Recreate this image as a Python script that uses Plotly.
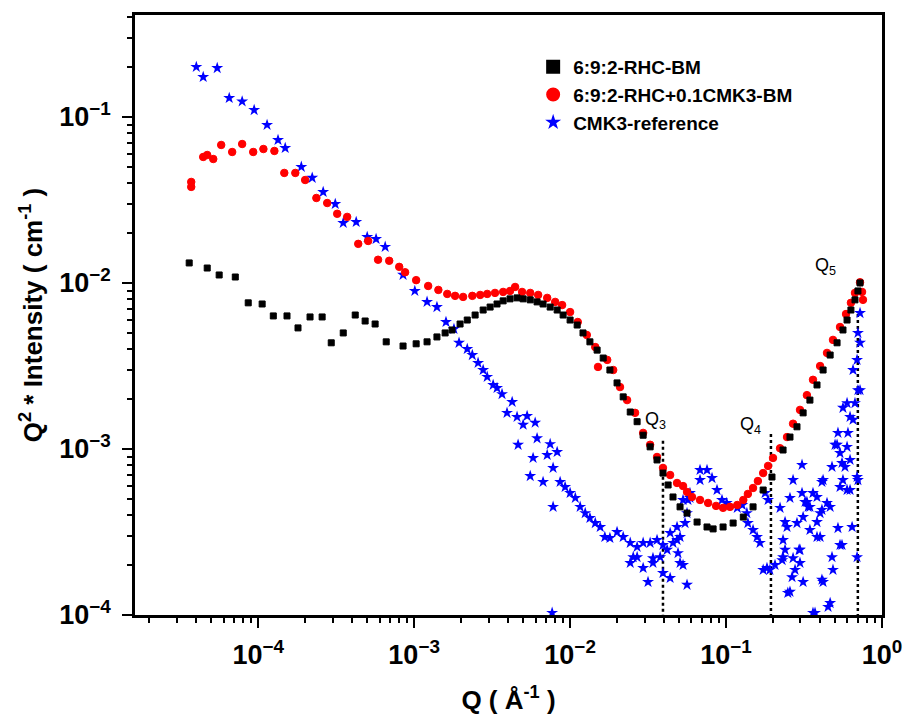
import math
import plotly.graph_objects as go

# 6:9:2-RHC-BM
q_bm = [3.61e-5, 4.71e-5, 5.62e-5, 7.13e-5, 8.63e-5, 1.06e-4, 1.25e-4, 1.53e-4, 1.80e-4, 2.15e-4,
        2.57e-4, 2.94e-4, 3.51e-4, 4.19e-4, 4.85e-4, 5.62e-4, 6.62e-4, 8.49e-4, 1.03e-3, 1.21e-3,
        1.40e-3, 1.58e-3, 1.75e-3, 1.97e-3, 2.19e-3, 2.46e-3, 2.77e-3, 3.07e-3, 3.40e-3, 3.72e-3,
        4.12e-3, 4.57e-3, 5.0e-3, 5.55e-3, 6.14e-3, 6.71e-3, 7.45e-3, 8.26e-3, 9.02e-3, 1.0e-2,
        1.11e-2, 1.21e-2, 1.34e-2, 1.49e-2, 1.63e-2, 1.80e-2, 2.0e-2, 2.19e-2, 2.43e-2, 2.69e-2,
        2.94e-2, 3.26e-2, 3.61e-2, 3.94e-2, 4.25e-2, 4.57e-2, 5.07e-2, 5.62e-2, 6.52e-2, 7.55e-2,
        8.26e-2, 9.57e-2, 0.111, 0.129, 0.149, 0.173, 0.197, 0.232, 0.257, 0.285,
        0.312, 0.345, 0.383, 0.419, 0.465, 0.515, 0.562, 0.597, 0.632, 0.671,
        0.701, 0.723]
i_bm = [1.32e-2, 1.23e-2, 1.117e-2, 1.086e-2, 7.59e-3, 7.47e-3, 6.33e-3, 6.33e-3, 5.36e-3, 6.24e-3,
        6.24e-3, 4.36e-3, 5.0e-3, 6.41e-3, 5.90e-3, 5.66e-3, 4.42e-3, 4.17e-3, 4.30e-3, 4.42e-3,
        4.73e-3, 5.0e-3, 5.21e-3, 5.66e-3, 5.98e-3, 6.41e-3, 6.87e-3, 7.16e-3, 7.47e-3, 7.80e-3,
        8.02e-3, 8.13e-3, 8.02e-3, 7.91e-3, 7.69e-3, 7.47e-3, 7.16e-3, 6.87e-3, 6.41e-3, 5.98e-3,
        5.58e-3, 5.0e-3, 4.42e-3, 3.94e-3, 3.53e-3, 2.99e-3, 2.50e-3, 2.06e-3, 1.67e-3, 1.46e-3,
        1.21e-3, 1.03e-3, 8.59e-4, 7.16e-4, 6.07e-4, 5.14e-4, 4.48e-4, 4.11e-4, 3.63e-4, 3.39e-4,
        3.30e-4, 3.39e-4, 3.58e-4, 3.89e-4, 4.48e-4, 5.66e-4, 6.78e-4, 9.86e-4, 1.18e-3, 1.36e-3,
        1.65e-3, 1.97e-3, 2.43e-3, 2.99e-3, 3.68e-3, 4.36e-3, 5.21e-3, 5.98e-3, 6.87e-3, 7.91e-3,
        8.95e-3, 1.0e-2]

# 6:9:2-RHC+0.1CMK3-BM
q_cmk = [3.72e-5, 3.72e-5, 4.44e-5, 4.71e-5, 5.15e-5, 5.79e-5, 6.81e-5, 7.89e-5, 9.29e-5, 1.08e-4,
         1.27e-4, 1.47e-4, 1.73e-4, 2.0e-4, 2.36e-4, 2.77e-4, 3.21e-4, 3.72e-4, 4.38e-4, 5.07e-4,
         5.87e-4, 6.92e-4, 8.02e-4, 8.75e-4, 1.03e-3, 1.23e-3, 1.43e-3, 1.63e-3, 1.83e-3, 2.06e-3,
         2.36e-3, 2.65e-3, 2.94e-3, 3.30e-3, 3.72e-3, 4.12e-3, 4.44e-3, 4.92e-3, 5.55e-3, 6.24e-3,
         7.13e-3, 8.02e-3, 8.89e-3, 1.0e-2, 1.12e-2, 1.28e-2, 1.45e-2, 1.51e-2, 1.73e-2, 1.89e-2,
         2.09e-2, 2.32e-2, 2.61e-2, 2.94e-2, 3.26e-2, 3.61e-2, 3.94e-2, 4.38e-2, 4.85e-2, 5.30e-2,
         5.62e-2, 6.05e-2, 6.81e-2, 7.67e-2, 8.63e-2, 9.57e-2, 0.106, 0.118, 0.129, 0.138,
         0.149, 0.160, 0.173, 0.186, 0.200, 0.222, 0.246, 0.269, 0.298, 0.330,
         0.361, 0.401, 0.444, 0.485, 0.538, 0.588, 0.632, 0.671, 0.723, 0.745,
         0.755]
i_cmk = [4.06e-2, 3.79e-2, 5.74e-2, 5.90e-2, 5.58e-2, 6.78e-2, 6.15e-2, 6.87e-2, 6.15e-2, 6.41e-2,
         6.24e-2, 4.60e-2, 4.60e-2, 4.17e-2, 3.25e-2, 3.03e-2, 2.61e-2, 2.50e-2, 1.72e-2, 1.79e-2,
         1.38e-2, 1.36e-2, 1.25e-2, 1.16e-2, 1.04e-2, 9.59e-3, 9.08e-3, 8.59e-3, 8.36e-3, 8.24e-3,
         8.36e-3, 8.47e-3, 8.59e-3, 8.71e-3, 8.83e-3, 8.95e-3, 9.46e-3, 8.83e-3, 8.71e-3, 8.47e-3,
         8.13e-3, 7.69e-3, 7.36e-3, 6.68e-3, 5.82e-3, 4.86e-3, 4.11e-3, 3.12e-3, 3.44e-3, 2.99e-3,
         2.36e-3, 1.97e-3, 1.65e-3, 1.25e-3, 1.06e-3, 8.95e-4, 7.69e-4, 6.97e-4, 6.24e-4, 5.98e-4,
         5.51e-4, 5.14e-4, 4.93e-4, 4.73e-4, 4.54e-4, 4.42e-4, 4.48e-4, 4.60e-4, 4.93e-4, 5.36e-4,
         5.82e-4, 6.41e-4, 7.16e-4, 7.91e-4, 8.83e-4, 1.01e-3, 1.18e-3, 1.42e-3, 1.72e-3, 2.11e-3,
         2.61e-3, 3.16e-3, 3.79e-3, 4.54e-3, 5.43e-3, 6.50e-3, 7.59e-3, 8.71e-3, 1.01e-2, 8.83e-3,
         7.91e-3]

# CMK3-reference
q_ref = [4.01e-5, 4.44e-5, 5.46e-5, 6.52e-5, 7.89e-5, 9.42e-5, 1.14e-4, 1.34e-4, 1.49e-4, 1.89e-4,
         2.22e-4, 2.61e-4, 3.12e-4, 3.51e-4, 4.25e-4, 5.0e-4, 5.70e-4, 6.52e-4, 8.49e-4, 1.01e-3,
         1.21e-3, 1.40e-3, 1.60e-3, 1.80e-3, 1.94e-3, 2.19e-3, 2.36e-3, 2.57e-3, 2.77e-3, 2.94e-3,
         3.21e-3, 3.40e-3, 3.66e-3, 4.25e-3, 3.94e-3, 4.57e-3, 5.30e-3, 5.0e-3, 5.97e-3, 4.64e-3,
         6.14e-3, 7.45e-3, 8.26e-3, 7.13e-3, 5.79e-3, 5.55e-3, 6.71e-3, 7.78e-3, 8.63e-3, 9.29e-3,
         1.0e-2, 1.08e-2, 1.16e-2, 1.25e-2, 1.34e-2, 1.45e-2, 1.56e-2, 7.78e-3, 1.67e-2, 1.80e-2,
         2.0e-2, 2.19e-2, 2.43e-2, 2.69e-2, 2.94e-2, 3.26e-2, 3.61e-2, 2.43e-2, 2.69e-2, 2.94e-2,
         3.40e-2, 3.78e-2, 4.19e-2, 4.57e-2, 5.07e-2, 5.46e-2, 5.62e-2, 5.70e-2, 3.16e-2, 4.38e-2,
         5.62e-2, 3.94e-2, 5.30e-2, 4.92e-2, 4.85e-2, 4.38e-2, 5.87e-2, 5.30e-2, 6.81e-2, 7.55e-2,
         6.81e-2, 8.13e-2, 8.75e-2, 9.42e-2, 0.101, 0.118, 0.127, 0.136, 0.138, 0.149,
         0.158, 0.165, 0.173, 0.191, 0.206, 0.186, 0.178, 0.222, 0.239, 0.257,
         0.269, 0.307, 0.307, 0.330, 0.345, 0.361, 0.383, 0.412, 0.444, 0.401,
         0.383, 0.345, 0.401, 0.312, 0.285, 0.246, 0.232, 0.239, 0.232, 0.229,
         0.269, 0.298, 0.277, 0.265, 0.257, 0.312, 0.478, 0.485, 0.538, 0.522,
         0.419, 0.361, 0.451, 0.465, 0.478, 0.515, 0.522, 0.538, 0.562, 0.597,
         0.624, 0.605, 0.597, 0.624, 0.554, 0.538, 0.597, 0.671, 0.652, 0.692,
         0.701, 0.723, 0.723, 0.701, 0.692, 0.692, 0.643, 0.652, 0.723, 7.67e-3,
         0.183, 0.249, 0.294, 0.298, 0.412, 0.554, 0.372, 0.500, 0.562, 0.624,
         0.579, 0.701, 0.321, 0.336, 0.419, 0.465, 0.412, 0.383, 2.54e-2, 3.94e-2,
         3.40e-2, 5.07e-2, 4.85e-2, 5.87e-2]
i_ref = [0.200, 0.174, 0.197, 0.130, 0.124, 0.110, 8.95e-2, 7.26e-2, 6.50e-2, 5.0e-2,
         4.30e-2, 3.53e-2, 2.99e-2, 2.30e-2, 2.33e-2, 1.89e-2, 1.84e-2, 1.65e-2, 1.12e-2, 8.95e-3,
         7.69e-3, 7.16e-3, 5.82e-3, 5.28e-3, 4.36e-3, 4.0e-3, 3.68e-3, 3.30e-3, 2.99e-3, 2.72e-3,
         2.43e-3, 2.33e-3, 2.14e-3, 1.92e-3, 1.65e-3, 1.56e-3, 1.58e-3, 1.40e-3, 1.44e-3, 1.06e-3,
         1.16e-3, 1.07e-3, 9.59e-4, 9.20e-4, 8.83e-4, 6.87e-4, 6.33e-4, 7.69e-4, 6.33e-4, 5.90e-4,
         5.43e-4, 5.07e-4, 4.48e-4, 4.11e-4, 3.84e-4, 3.58e-4, 3.39e-4, 4.48e-4, 2.95e-4, 2.91e-4,
         3.16e-4, 2.95e-4, 2.72e-4, 2.57e-4, 2.72e-4, 2.72e-4, 2.83e-4, 2.06e-4, 2.23e-4, 1.92e-4,
         2.06e-4, 2.23e-4, 2.47e-4, 2.72e-4, 2.95e-4, 3.58e-4, 4.11e-4, 4.93e-4, 1.58e-4, 1.67e-4,
         1.52e-4, 1.79e-4, 2.0e-4, 2.36e-4, 3.39e-4, 3.12e-4, 5.43e-4, 4.93e-4, 6.50e-4, 7.47e-4,
         7.47e-4, 6.68e-4, 5.66e-4, 4.93e-4, 4.73e-4, 4.42e-4, 4.60e-4, 4.11e-4, 3.58e-4, 3.25e-4,
         2.95e-4, 2.72e-4, 1.87e-4, 1.87e-4, 2.0e-4, 4.93e-4, 5.43e-4, 4.42e-4, 3.63e-4, 5.07e-4,
         6.50e-4, 8.02e-4, 5.43e-4, 4.80e-4, 4.48e-4, 5.43e-4, 5.14e-4, 6.33e-4, 4.73e-4, 4.11e-4,
         3.63e-4, 3.25e-4, 2.95e-4, 3.89e-4, 3.58e-4, 3.39e-4, 2.83e-4, 2.47e-4, 2.23e-4, 2.14e-4,
         2.20e-4, 2.47e-4, 1.87e-4, 1.69e-4, 1.38e-4, 1.58e-4, 2.23e-4, 1.87e-4, 2.64e-4, 3.34e-4,
         1.58e-4, 1.03e-4, 1.12e-4, 1.18e-4, 7.80e-4, 1.06e-3, 1.25e-3, 9.46e-4, 1.77e-3, 1.89e-3,
         1.56e-3, 1.25e-3, 1.03e-3, 8.59e-4, 8.24e-4, 5.90e-4, 5.66e-4, 1.89e-3, 2.99e-3, 3.44e-3,
         2.26e-3, 4.36e-3, 6.59e-3, 5.0e-3, 6.78e-4, 2.23e-4, 3.39e-4, 1.50e-3, 2.26e-3, 1.03e-4,
         1.92e-4, 1.36e-4, 2.47e-4, 2.06e-4, 1.63e-4, 2.64e-4, 1.03e-4, 1.06e-3, 6.50e-4, 5.66e-4,
         7.80e-4, 6.50e-4, 4.80e-4, 4.48e-4, 6.50e-4, 4.48e-4, 4.30e-4, 2.95e-4, 2.23e-4, 2.64e-4,
         2.20e-4, 2.06e-4, 2.83e-4, 5.07e-4]

# characteristic Q positions (dotted markers)
q_marks = [0.0394, 0.194, 0.70]
q_mark_tops = [1.12e-3, 1.23e-3, 6.5e-3]
q_mark_labels = ["Q<sub>3</sub>", "Q<sub>4</sub>", "Q<sub>5</sub>"]
q_label_pos = [(0.0351, 1.48e-3), (0.1445, 1.38e-3), (0.431, 1.26e-2)]

FONT = "Liberation Sans, Arial, sans-serif"

fig = go.Figure()

for q, top in zip(q_marks, q_mark_tops):
    fig.add_trace(go.Scatter(x=[q, q], y=[top, 1e-4], mode="lines",
                             line=dict(color="black", width=2.5, dash="dot"),
                             showlegend=False, hoverinfo="skip"))

fig.add_trace(go.Scatter(x=q_ref, y=i_ref, mode="markers", name="CMK3-reference",
                         marker=dict(symbol="star", size=9, color="blue",
                                     line=dict(width=0))))
fig.add_trace(go.Scatter(x=q_cmk, y=i_cmk, mode="markers", name="6:9:2-RHC+0.1CMK3-BM",
                         marker=dict(symbol="circle", size=7.5, color="red",
                                     line=dict(width=1, color="red"))))
fig.add_trace(go.Scatter(x=q_bm, y=i_bm, mode="markers", name="6:9:2-RHC-BM",
                         marker=dict(symbol="square", size=6, color="black",
                                     line=dict(width=1, color="black"))))

for (qx, iy), txt in zip(q_label_pos, q_mark_labels):
    fig.add_annotation(x=math.log10(qx), y=math.log10(iy), text=txt, showarrow=False,
                       font=dict(family=FONT, size=18, color="black"))

exp_txt = {-4: "\u22124", -3: "\u22123", -2: "\u22122", -1: "\u22121", 0: "0"}
x_vals = [1e-4, 1e-3, 1e-2, 1e-1, 1]
y_vals = [1e-4, 1e-3, 1e-2, 1e-1]

axis_common = dict(
    type="log", showgrid=False, zeroline=False, automargin=False,
    showline=True, linecolor="black", linewidth=2.5, mirror=True,
    ticks="outside", ticklen=10, tickwidth=2, tickcolor="black",
    tickfont=dict(family=FONT, size=27, color="black", weight="bold"),
    minor=dict(ticks="outside", ticklen=5, tickwidth=2, tickcolor="black",
               dtick="D1", showgrid=False),
)

fig.update_xaxes(**axis_common, range=[-4.79, 0], tickmode="array", tickvals=x_vals,
                 ticktext=["<b>10<sup>%s</sup></b>" % exp_txt[e] for e in [-4, -3, -2, -1, 0]],
                 ticklabelstandoff=4,
                 title=dict(text="<b>Q ( \u00c5<sup>-1</sup> )</b>",
                            font=dict(family=FONT, size=26, color="black"), standoff=22))
fig.update_yaxes(**axis_common, range=[-4, -0.386], tickmode="array", tickvals=y_vals,
                 ticktext=["<b>10<sup>%s</sup></b>" % exp_txt[e] for e in [-4, -3, -2, -1]],
                 ticklabelstandoff=6,
                 title=dict(text="<b>Q<sup>2</sup> * Intensity ( cm<sup>-1</sup> )</b>",
                            font=dict(family=FONT, size=26, color="black"), standoff=10))

fig.update_layout(
    width=908, height=717,
    margin=dict(l=135, r=26, t=15, b=102),
    plot_bgcolor="white", paper_bgcolor="white",
    legend=dict(x=0.533, y=0.945, xanchor="left", yanchor="top",
                traceorder="reversed", bgcolor="rgba(0,0,0,0)",
                font=dict(family=FONT, size=19, color="black", weight="bold"),
                itemsizing="constant"),
    showlegend=True,
)

# the page body has a default 8px margin; drop it so the figure fills the window
fig.write_html("out.html", config={"displayModeBar": False},
               post_script="document.body.style.margin='0';")
